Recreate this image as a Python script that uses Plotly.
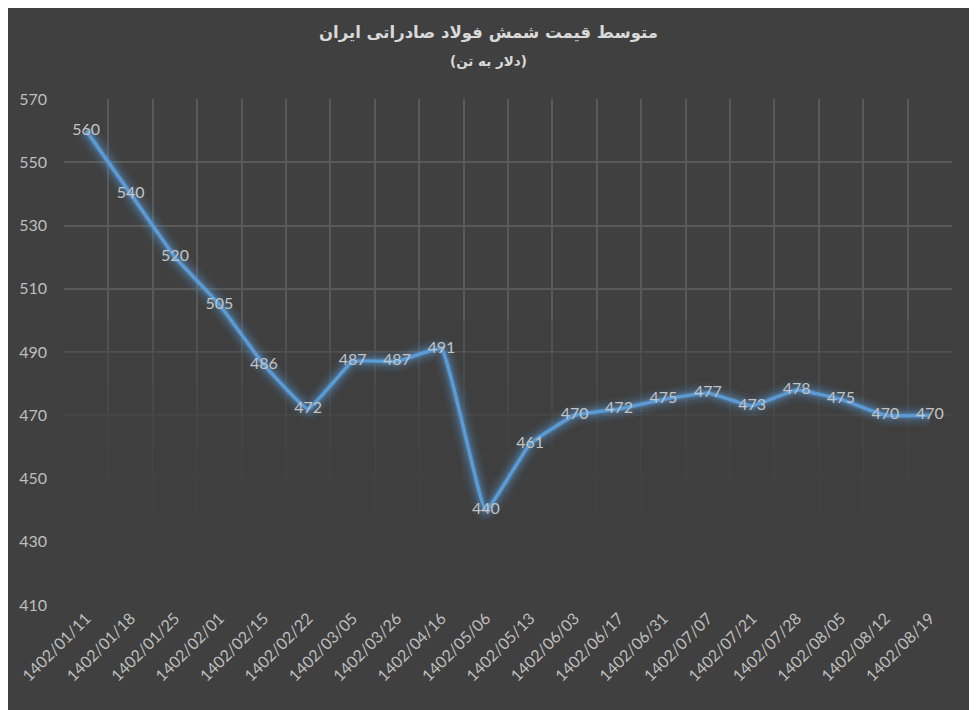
import plotly.graph_objects as go

dates = ['1402/01/11', '1402/01/18', '1402/01/25', '1402/02/01', '1402/02/15',
         '1402/02/22', '1402/03/05', '1402/03/26', '1402/04/16', '1402/05/06',
         '1402/05/13', '1402/06/03', '1402/06/17', '1402/06/31', '1402/07/07',
         '1402/07/21', '1402/07/28', '1402/08/05', '1402/08/12', '1402/08/19']
prices = [560, 540, 520, 505, 486, 472, 487, 487, 491, 440,
          461, 470, 472, 475, 477, 473, 478, 475, 470, 470]

title_text = 'متوسط قیمت شمش فولاد صادراتی ایران'
subtitle_text = '(دلار به تن)'

y_min, y_max, y_step = 410, 570, 20

fig = go.Figure()

# soft glow under the line
for w, a in [(22, 0.07), (16, 0.10), (11, 0.16), (7, 0.25)]:
    fig.add_trace(go.Scatter(x=dates, y=prices, mode='lines',
                             line=dict(color='rgba(91,155,213,%s)' % a, width=w,
                                       shape='spline', smoothing=0.3),
                             hoverinfo='skip', showlegend=False))

fig.add_trace(go.Scatter(x=dates, y=prices, mode='lines+text',
                         text=[str(v) for v in prices], textposition='middle center',
                         textfont=dict(color='#C4C4C4', size=16, family='Lato'),
                         line=dict(color='#5B9BD5', width=3.5, shape='spline', smoothing=0.3),
                         showlegend=False))

# gridlines fade out towards the bottom: stacked translucent bands over the grid
for i in range(8):
    fig.add_shape(type='rect', xref='x', yref='y',
                  x0=-0.5, x1=len(dates) - 0.5, y0=y_min, y1=y_min + 20 + i * 10,
                  fillcolor='#404040', opacity=0.3, line_width=0, layer='between')

# page offset of 8px (body margin) compensated in the margins
ml, mr, mt, mb = 56, 33, 91, 113
plot_h = 710 - mt - mb

fig.update_layout(
    width=977, height=710,
    paper_bgcolor='#404040', plot_bgcolor='#404040',
    margin=dict(l=ml, r=mr, t=mt, b=mb, autoexpand=False),
    font=dict(family='Lato', color='#BFBFBF'),
    annotations=[
        dict(text='<b>' + title_text + '</b>', x=0.4775, y=1 + (99 - 33) / plot_h,
             xref='paper', yref='paper', yanchor='middle', showarrow=False,
             font=dict(size=16.5, color='#D9D9D9', family='DejaVu Sans')),
        dict(text='<b>' + subtitle_text + '</b>', x=0.4775, y=1 + (99 - 61) / plot_h,
             xref='paper', yref='paper', yanchor='middle', showarrow=False,
             font=dict(size=13.5, color='#D9D9D9', family='DejaVu Sans')),
    ],
)

fig.update_xaxes(type='category', tickson='boundaries', showgrid=True,
                 gridcolor='#595959', gridwidth=1.5, tickangle=-45, ticks='',
                 tickfont=dict(size=16, color='#BFBFBF'), showline=False,
                 zeroline=False, automargin=False, range=[-0.5, len(dates) - 0.5])
fig.update_yaxes(range=[y_min, y_max], tick0=y_min, dtick=y_step, showgrid=True,
                 gridcolor='#595959', gridwidth=1.5, ticks='',
                 tickfont=dict(size=16, color='#BFBFBF'),
                 zeroline=False, showline=False, ticklabelstandoff=16, automargin=False)

fig.write_html('out.html')
